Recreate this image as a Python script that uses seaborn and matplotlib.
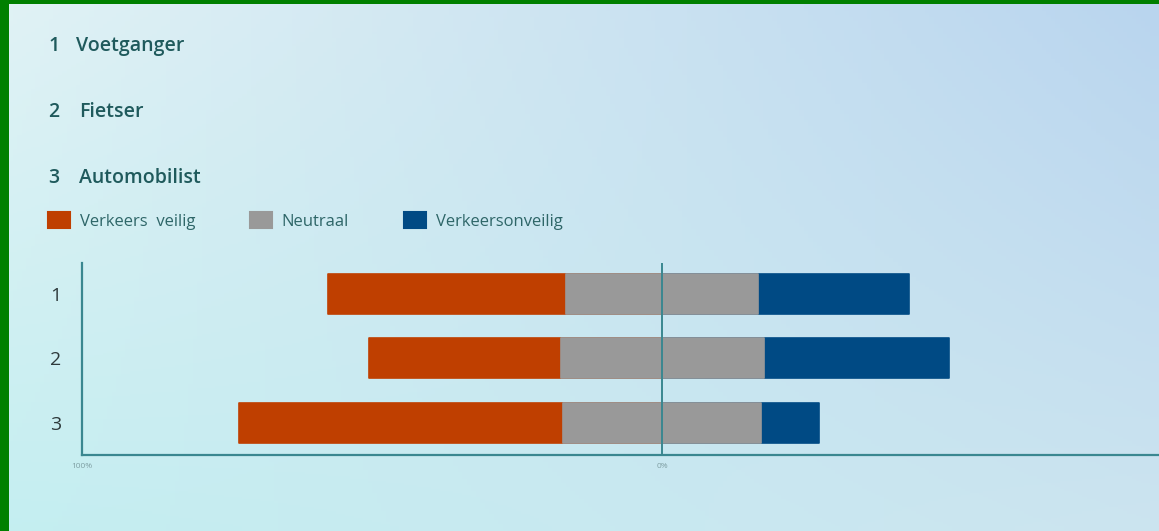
import numpy as np
import pandas as pd
import matplotlib
matplotlib.use('Agg')
import matplotlib.pyplot as plt
import seaborn as sns
from matplotlib.patches import Patch

# DATA ---------------------------------------------------
groepen = ['1', '2', '3']
namen = ['Voetganger', 'Fietser', 'Automobilist']
veilig = [41, 33, 56]      # Verkeers veilig (links)
neutraal = [33, 35, 34]    # Neutraal (midden, gecentreerd op 0)
onveilig = [26, 32, 10]    # Verkeersonveilig (rechts)
legenda = ['Verkeers  veilig', 'Neutraal', 'Verkeersonveilig']
xtick_pos = [-100, 0]
xtick_lab = ['100%', '0%']

# STYLE --------------------------------------------------
sns.set_style('white')
plt.rcParams['font.family'] = ['Open Sans', 'DejaVu Sans']

c_oranje = '#bf3f00'
c_grijs = '#999999'
c_blauw = '#004a84'
c_as = '#3a8790'
c_tekst = '#1f5a5c'

df = pd.DataFrame({'groep': groepen, 'veilig': veilig,
                   'neutraal': neutraal, 'onveilig': onveilig})
df['rechts'] = df.neutraal / 2 + df.onveilig
df['links'] = -(df.neutraal / 2 + df.veilig)
df['half_r'] = df.neutraal / 2
df['half_l'] = -df.neutraal / 2

fig = plt.figure(figsize=(11.59, 5.31), dpi=100)
fig.patch.set_facecolor('#008000')

# achtergrond verloop
bg = fig.add_axes([9 / 1159, 0, 1 - 9 / 1159, 527 / 531])
hoeken = np.array([[[0.88, 0.95, 0.96], [0.725, 0.835, 0.935]],
                   [[0.77, 0.935, 0.945], [0.80, 0.895, 0.94]]])
bg.imshow(hoeken, aspect='auto', interpolation='bilinear',
          extent=[-0.5, 1.5, -0.5, 1.5])
bg.set_xlim(0, 1)
bg.set_ylim(0, 1)
bg.set_axis_off()

ax = fig.add_axes([82 / 1159, 76 / 531, 1 - 82 / 1159, 192 / 531])
ax.set_facecolor('none')

bw = 0.62
kw = dict(y='groep', data=df, orient='h', width=bw, errorbar=None, ax=ax,
          linewidth=1.2)
sns.barplot(x='rechts', color=c_blauw, edgecolor=c_blauw, **kw)
sns.barplot(x='links', color=c_oranje, edgecolor=c_oranje, **kw)
sns.barplot(x='half_r', color=c_grijs, edgecolor=c_grijs, **kw)
sns.barplot(x='half_l', color=c_grijs, edgecolor=c_grijs, **kw)
for p in ax.patches:
    p.set_joinstyle('round')
    p.set_facecolor(p.get_edgecolor())

ax.axvline(0, color=c_as, lw=1.4, zorder=5)
ax.set_xlim(-100, (1159 - 662) / 5.8)
ax.set_ylim(2.5, -0.48)
ax.set_xlabel('')
ax.set_ylabel('')
ax.set_xticks(xtick_pos)
ax.set_xticklabels(xtick_lab, fontsize=6, color='#7f9fa3')
ax.tick_params(axis='both', length=0)
ax.tick_params(axis='x', pad=6)
ax.tick_params(axis='y', pad=15, labelsize=14, labelcolor='#2e3a3c')
for s in ['top', 'right']:
    ax.spines[s].set_visible(False)
for s in ['left', 'bottom']:
    ax.spines[s].set_color(c_as)
    ax.spines[s].set_linewidth(1.6)

# lijst met groepen
ys = [46, 112, 178]
xs = [76, 79, 79]
for g, n, y, x in zip(groepen, namen, ys, xs):
    fig.text(48 / 1159, 1 - y / 531, g, fontsize=14, fontweight='semibold',
             color=c_tekst, va='center')
    fig.text(x / 1159, 1 - y / 531, n, fontsize=14, fontweight='semibold',
             color=c_tekst, va='center')

# legenda
handles = [Patch(facecolor=c, edgecolor=c, joinstyle='round', linewidth=1.5)
           for c in [c_oranje, c_grijs, c_blauw]]
fig.legend(handles, legenda, loc='center left', ncol=3, frameon=False,
           bbox_to_anchor=(33 / 1159, 1 - 221 / 531), fontsize=12,
           labelcolor='#2e6668', handlelength=1.3, handleheight=1.1,
           handletextpad=0.6, columnspacing=3.3)

fig.savefig('out.png', dpi=100, facecolor=fig.get_facecolor())
